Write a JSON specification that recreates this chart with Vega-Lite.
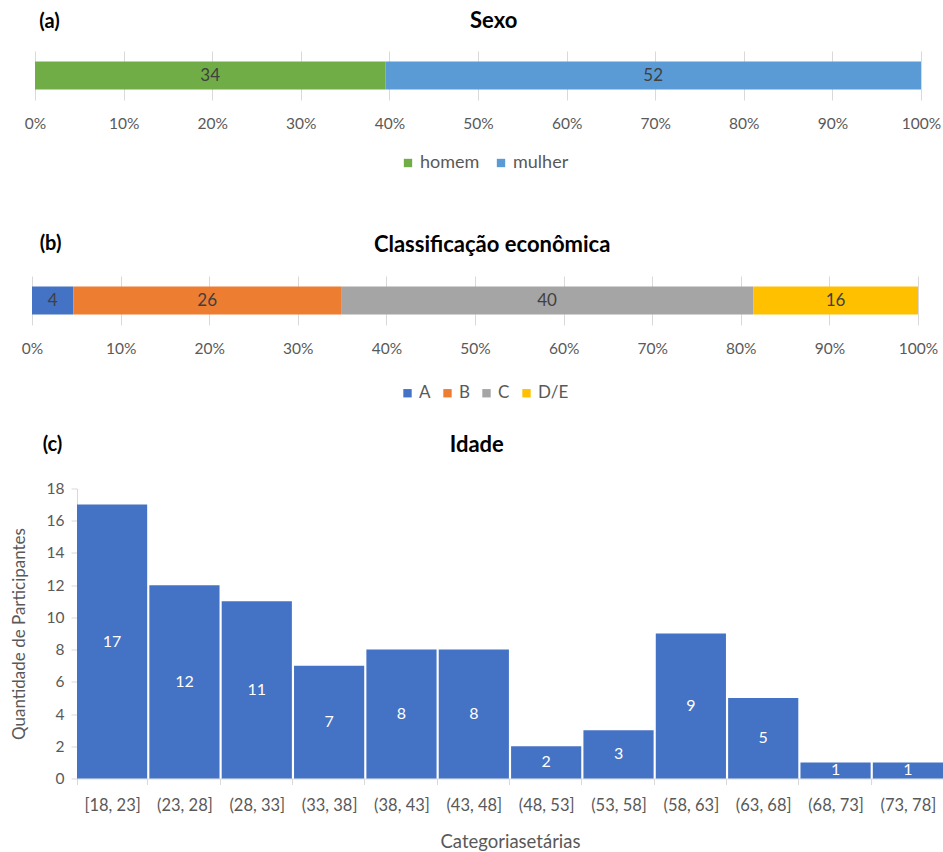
{
  "$schema": "https://vega.github.io/schema/vega-lite/v6.json",
  "background": "white",
  "padding": {"left": 10, "top": 9, "right": 0, "bottom": 0},
  "datasets": {
    "sexo": [
      {"variavel": "Sexo", "sexo": "homem", "n": 34},
      {"variavel": "Sexo", "sexo": "mulher", "n": 52}
    ],
    "classe": [
      {"variavel": "Classificação econômica", "classe": "A", "n": 4},
      {"variavel": "Classificação econômica", "classe": "B", "n": 26},
      {"variavel": "Classificação econômica", "classe": "C", "n": 40},
      {"variavel": "Classificação econômica", "classe": "D/E", "n": 16}
    ],
    "idade": [
      {"faixa": "[18, 23]", "n": 17},
      {"faixa": "(23, 28]", "n": 12},
      {"faixa": "(28, 33]", "n": 11},
      {"faixa": "(33, 38]", "n": 7},
      {"faixa": "(38, 43]", "n": 8},
      {"faixa": "(43, 48]", "n": 8},
      {"faixa": "(48, 53]", "n": 2},
      {"faixa": "(53, 58]", "n": 3},
      {"faixa": "(58, 63]", "n": 9},
      {"faixa": "(63, 68]", "n": 5},
      {"faixa": "(68, 73]", "n": 1},
      {"faixa": "(73, 78]", "n": 1}
    ]
  },
  "config": {
    "font": "Lato",
    "view": {"stroke": null},
    "title": {"fontSize": 22, "fontWeight": "bold", "color": "#000000", "anchor": "middle", "frame": "bounds"},
    "axis": {"labelFont": "Lato", "titleFont": "Lato", "labelColor": "#595959", "titleColor": "#595959"}
  },
  "spacing": 31.5,
  "align": "none",
  "bounds": "full",
  "resolve": {
    "scale": {"x": "independent", "y": "independent", "color": "independent"},
    "axis": {"x": "independent", "y": "independent"},
    "legend": {"color": "independent"}
  },
  "vconcat": [
    {
      "spacing": 61,
      "align": "none",
      "bounds": "full",
      "resolve": {
        "scale": {"x": "independent", "y": "independent", "color": "independent"},
        "axis": {"x": "independent", "y": "independent"},
        "legend": {"color": "independent"}
      },
      "vconcat": [
        {
          "data": {"name": "sexo"},
          "width": 866,
          "height": 49,
          "title": {"text": "Sexo", "dy": 25.5},
          "encoding": {
            "y": {
              "field": "variavel",
              "type": "nominal",
              "scale": {"paddingInner": 0, "paddingOuter": 0.375},
              "axis": {
                "title": "(a)", "labels": false, "ticks": false, "domain": false,
                "titleAngle": 0, "titleX": -28, "titleY": -30, "titleAlign": "center",
                "titleBaseline": "middle", "titleFontSize": 20, "titleFontWeight": "bold",
                "titleColor": "#000000"
              }
            },
            "order": {"field": "sexo", "type": "nominal", "sort": "ascending"}
          },
          "layer": [
            {
              "mark": {"type": "bar"},
              "encoding": {
                "x": {
                  "field": "n", "type": "quantitative", "stack": "normalize",
                  "scale": {"domain": [0, 1], "range": [-42, 844]},
                  "axis": {
                    "title": null, "format": ".0%",
                    "values": [0, 0.1, 0.2, 0.3, 0.4, 0.5, 0.6, 0.7, 0.8, 0.9, 1],
                    "labelFlush": false, "grid": true, "gridColor": "#D9D9D9",
                    "domain": false, "ticks": false, "labelPadding": 16, "labelFontSize": 15.5
                  }
                },
                "color": {
                  "field": "sexo", "type": "nominal",
                  "scale": {"domain": ["homem", "mulher"], "range": ["#70AD47", "#5B9BD5"]},
                  "legend": {
                    "orient": "none", "direction": "horizontal", "title": null,
                    "legendX": 322, "legendY": 103, "symbolType": "square",
                    "symbolSize": 70, "symbolStrokeWidth": 0, "labelFontSize": 18,
                    "labelColor": "#595959", "labelFont": "Lato", "columnPadding": 12,
                    "labelOffset": 3
                  }
                }
              }
            },
            {
              "mark": {"type": "text", "fontSize": 17, "color": "#404040", "baseline": "middle"},
              "encoding": {
                "x": {"field": "n", "type": "quantitative", "stack": "normalize", "bandPosition": 0.5},
                "detail": {"field": "sexo", "type": "nominal"},
                "text": {"field": "n", "type": "quantitative"}
              }
            }
          ]
        },
        {
          "data": {"name": "classe"},
          "width": 866,
          "height": 49,
          "title": {"text": "Classificação econômica", "dy": 27.5},
          "encoding": {
            "y": {
              "field": "variavel",
              "type": "nominal",
              "scale": {"paddingInner": 0, "paddingOuter": 0.375},
              "axis": {
                "title": "(b)", "labels": false, "ticks": false, "domain": false,
                "titleAngle": 0, "titleX": -27, "titleY": -33, "titleAlign": "center",
                "titleBaseline": "middle", "titleFontSize": 20, "titleFontWeight": "bold",
                "titleColor": "#000000"
              }
            },
            "order": {"field": "classe", "type": "nominal", "sort": "ascending"}
          },
          "layer": [
            {
              "mark": {"type": "bar"},
              "encoding": {
                "x": {
                  "field": "n", "type": "quantitative", "stack": "normalize",
                  "scale": {"domain": [0, 1], "range": [-45, 841]},
                  "axis": {
                    "title": null, "format": ".0%",
                    "values": [0, 0.1, 0.2, 0.3, 0.4, 0.5, 0.6, 0.7, 0.8, 0.9, 1],
                    "labelFlush": false, "grid": true, "gridColor": "#D9D9D9",
                    "domain": false, "ticks": false, "labelPadding": 16, "labelFontSize": 15.5
                  }
                },
                "color": {
                  "field": "classe", "type": "nominal",
                  "scale": {"domain": ["A", "B", "C", "D/E"], "range": ["#4472C4", "#ED7D31", "#A5A5A5", "#FFC000"]},
                  "legend": {
                    "orient": "none", "direction": "horizontal", "title": null,
                    "legendX": 322, "legendY": 108.5, "symbolType": "square",
                    "symbolSize": 70, "symbolStrokeWidth": 0, "labelFontSize": 17,
                    "labelColor": "#595959", "labelFont": "Lato", "columnPadding": 8,
                    "labelOffset": 3
                  }
                }
              }
            },
            {
              "mark": {"type": "text", "fontSize": 17, "color": "#404040", "baseline": "middle"},
              "encoding": {
                "x": {"field": "n", "type": "quantitative", "stack": "normalize", "bandPosition": 0.5},
                "detail": {"field": "classe", "type": "nominal"},
                "text": {"field": "n", "type": "quantitative"}
              }
            }
          ]
        }
      ]
    },
    {
      "data": {"name": "idade"},
      "width": 866,
      "height": 290,
      "title": {"text": "Idade", "dy": 26},
      "resolve": {"axis": {"x": "independent"}},
      "layer": [
        {
          "mark": {"type": "bar", "color": "#4472C4"},
          "encoding": {
            "x": {
              "field": "faixa", "type": "ordinal", "sort": null,
              "scale": {"paddingInner": 0.03, "paddingOuter": 0},
              "axis": {
                "orient": "bottom", "title": "Categoriasetárias", "labelAngle": 0,
                "labelFontSize": 16.5, "tickBand": "extent", "ticks": true, "tickSize": 6,
                "tickColor": "#D9D9D9", "domainColor": "#D9D9D9", "labelPadding": 13,
                "titleFontSize": 18.5, "titleFontWeight": "normal", "titlePadding": 18
              }
            },
            "y": {
              "field": "n", "type": "quantitative",
              "scale": {"domain": [0, 18]},
              "axis": {
                "values": [0, 2, 4, 6, 8, 10, 12, 14, 16, 18], "grid": false,
                "domainColor": "#D9D9D9", "tickColor": "#D9D9D9", "tickSize": 6,
                "labelPadding": 7, "labelFontSize": 15.5,
                "title": "Quantidade de Participantes", "titleFontSize": 17,
                "titleFontWeight": "normal", "titlePadding": 18
              }
            }
          }
        },
        {
          "mark": {"type": "text", "fontSize": 16, "color": "white", "baseline": "middle"},
          "encoding": {
            "x": {
              "field": "faixa", "type": "ordinal", "sort": null,
              "axis": {
                "orient": "top", "title": "(c)", "labels": false, "ticks": false, "domain": false,
                "titleX": -25, "titleY": -44, "titleAlign": "center", "titleBaseline": "middle",
                "titleFontSize": 20, "titleFontWeight": "bold", "titleColor": "#000000"
              }
            },
            "y": {
              "field": "n", "type": "quantitative", "stack": "zero", "bandPosition": 0.5,
              "axis": {
                "values": [0, 2, 4, 6, 8, 10, 12, 14, 16, 18], "grid": false,
                "domainColor": "#D9D9D9", "tickColor": "#D9D9D9", "tickSize": 6,
                "labelPadding": 7, "labelFontSize": 15.5,
                "title": "Quantidade de Participantes", "titleFontSize": 17,
                "titleFontWeight": "normal", "titlePadding": 18
              }
            },
            "text": {"field": "n", "type": "quantitative"}
          }
        }
      ]
    }
  ]
}
